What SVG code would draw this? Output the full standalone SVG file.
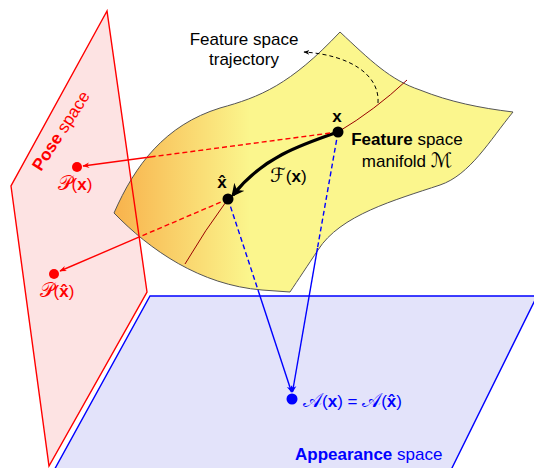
<svg xmlns="http://www.w3.org/2000/svg" width="534" height="468" viewBox="0 0 534 468">
<defs>
<style>
text{font-family:"Liberation Sans",Arial,sans-serif;font-size:17px;}
.b{font-weight:bold;}
.m{font-family:"DejaVu Serif","DejaVu Sans","Noto Sans",serif;font-style:normal;font-size:20px;}
.red{fill:#ff0000;}
.blue{fill:#0000ff;}
.rl{stroke:#ff0000;stroke-width:1.4;fill:none;}
.bl{stroke:#0000ff;stroke-width:1.4;fill:none;}
.dash{stroke-dasharray:5,3;}
</style>
<linearGradient id="g" gradientUnits="userSpaceOnUse" x1="114" y1="0" x2="250" y2="0">
<stop offset="0" stop-color="#f8b24c"/>
<stop offset="1" stop-color="#fbf68d"/>
</linearGradient>
<marker id="ar" viewBox="0 0 10 10" refX="9" refY="5" markerWidth="7" markerHeight="7" orient="auto" markerUnits="userSpaceOnUse">
<path d="M0,1 L10,5 L0,9 L3,5 z" fill="#ff0000"/>
</marker>
<marker id="ab" viewBox="0 0 10 10" refX="9" refY="5" markerWidth="7" markerHeight="7" orient="auto" markerUnits="userSpaceOnUse">
<path d="M0,1 L10,5 L0,9 L3,5 z" fill="#0000ff"/>
</marker>
<marker id="ak" viewBox="0 0 10 10" refX="8" refY="5" markerWidth="13" markerHeight="13" orient="auto" markerUnits="userSpaceOnUse">
<path d="M0,0 L10,5 L0,10 L3,5 z" fill="#000"/>
</marker>
<marker id="as" viewBox="0 0 10 10" refX="9" refY="5" markerWidth="6" markerHeight="6" orient="auto" markerUnits="userSpaceOnUse">
<path d="M0,1 L10,5 L0,9 L3,5 z" fill="#000"/>
</marker>
</defs>

<g id="pose-plane">
<polygon points="107,11 11,186 49,466 147,292" fill="#fde3e3" stroke="none"/>
</g>
<g id="appearance-plane">
<polygon points="150,296 537,296 449,474 52,474" fill="#e3e3fa" stroke="#0000ff" stroke-width="1.4"/>
</g>
<g id="manifold">
<path d="M114,213 C135,165 165,125 220,108 C260,97 290,85 340,32 C370,60 390,80 420,90 C450,102 480,108 513,112 C490,140 470,175 440,185 C395,200 340,215 318,250 C308,265 298,280 290,292 L262,290 C200,285 150,250 114,213 Z" fill="url(#g)" stroke="#555" stroke-width="1"/>
<path d="M407,80 Q375,110 338,132" fill="none" stroke="#9a0000" stroke-width="1"/>
<path d="M228,199 Q205,230 185,264" fill="none" stroke="#9a0000" stroke-width="1"/>
</g>
<g id="pose-plane-edge">
<polygon points="107,11 11,186 49,466 147,292" fill="none" stroke="#ff0000" stroke-width="1.4"/>
</g>

<g id="connectors">
<path d="M378,103 C380,75 350,55 304,52" fill="none" stroke="#000" stroke-width="1" stroke-dasharray="4,3" marker-end="url(#as)"/>
<path d="M338,132 C300,145 262,158 233,195" fill="none" stroke="#000" stroke-width="3.2" marker-end="url(#ak)"/>
<line class="rl dash" x1="338" y1="132" x2="152" y2="156.8"/>
<line class="rl" x1="152" y1="156.8" x2="83" y2="166" marker-end="url(#ar)"/>
<line class="rl dash" x1="228" y1="199" x2="140" y2="236.7"/>
<line class="rl" x1="140" y1="236.7" x2="60" y2="271" marker-end="url(#ar)"/>
<line class="bl dash" x1="338" y1="132" x2="317.5" y2="248"/>
<line class="bl" x1="317.5" y1="248" x2="292.5" y2="392" marker-end="url(#ab)"/>
<line class="bl dash" x1="228" y1="199" x2="258" y2="290"/>
<line class="bl" x1="258" y1="290" x2="291.5" y2="392" marker-end="url(#ab)"/>
</g>

<g id="x">
<circle cx="338" cy="132" r="5.5" fill="#000"/>
<text x="337" y="122" class="b" text-anchor="middle">x</text>
</g>
<g id="xhat">
<circle cx="228" cy="199" r="5.5" fill="#000"/>
<text x="222" y="188" class="b" text-anchor="middle">x̂</text>
</g>
<g id="F-label">
<text x="270" y="182"><tspan class="m">ℱ</tspan>(<tspan class="b">x</tspan>)</text>
</g>
<g id="traj-label">
<text x="244" y="45" text-anchor="middle">Feature space</text>
<text x="244" y="65" text-anchor="middle">trajectory</text>
</g>
<g id="manifold-label">
<text x="407" y="145" text-anchor="middle"><tspan class="b">Feature</tspan> space</text>
<text x="407" y="167" text-anchor="middle">manifold <tspan class="m">ℳ</tspan></text>
</g>
<g id="pose-label">
<text class="red" transform="translate(41,172) rotate(-57)"><tspan class="b">Pose</tspan> space</text>
</g>
<g id="Px">
<circle cx="77" cy="167" r="5" fill="#ff0000"/>
<text x="75" y="190" class="red" text-anchor="middle"><tspan class="m">𝒫</tspan>(<tspan class="b">x</tspan>)</text>
</g>
<g id="Pxhat">
<circle cx="54" cy="274" r="5" fill="#ff0000"/>
<text x="57" y="297" class="red" text-anchor="middle"><tspan class="m">𝒫</tspan>(<tspan class="b">x̂</tspan>)</text>
</g>
<g id="A">
<circle cx="292" cy="399" r="5.5" fill="#0000ff"/>
<text x="303" y="407" class="blue"><tspan class="m">𝒜</tspan>(<tspan class="b">x</tspan>) = <tspan class="m">𝒜</tspan>(<tspan class="b">x̂</tspan>)</text>
</g>
<g id="appearance-label">
<text x="295" y="460" class="blue"><tspan class="b">Appearance</tspan> space</text>
</g>
</svg>
